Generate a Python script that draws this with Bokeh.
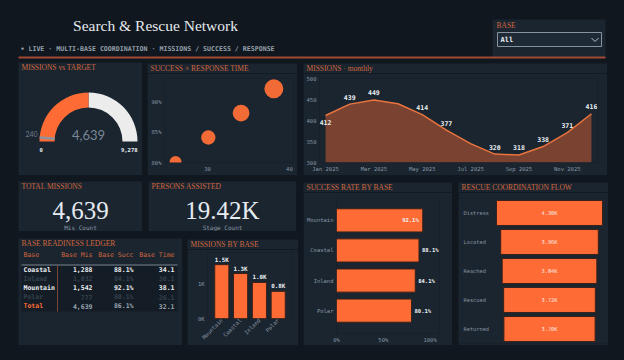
import math
from bokeh.plotting import figure
from bokeh.models import (Range1d, FactorRange, ColumnDataSource, FixedTicker,
                          SingleIntervalTicker, PrintfTickFormatter, Row, Column, Spacer)
from bokeh.core.properties import value
from bokeh.embed import file_html
from bokeh.resources import INLINE

# ---------------- data ----------------
bases = ["Coastal", "Inland", "Mountain", "Polar"]
base_missions = [1288, 1032, 1542, 777]
base_success = [88.1, 84.1, 92.1, 80.1]
base_response = [34.1, 30.1, 38.1, 26.1]
highlighted_bases = ["Coastal", "Mountain"]

months = ["Jan", "Feb", "Mar", "Apr", "May", "Jun", "Jul", "Aug", "Sep", "Oct", "Nov", "Dec"]
monthly_missions = [412, 439, 449, 440, 414, 377, 345, 320, 318, 338, 371, 416]
month_ticks = [0, 2, 4, 6, 8, 10]
month_tick_labels = ["Jan 2025", "Mar 2025", "May 2025", "Jul 2025", "Sep 2025", "Nov 2025"]
unlabeled_months = ["Apr", "Jul"]

mission_target = 240
gauge_max = 9278
persons_assisted = 19420

flow_stages = ["Distress", "Located", "Reached", "Rescued", "Returned"]
flow_values = [4300, 3960, 3840, 3720, 3700]

ledger_columns = ["Base", "Base Mis", "Base Succ", "Base Time"]

# ---------------- styling ----------------
BG = "#10171f"
PANEL = "#1a2530"
TABLE_BG = "#141d26"
ORANGE = "#ff6b35"
TITLE_C = "#d2663d"
GRAY = "#8a96a3"
WHITE = "#eef2f5"
MONO = "DejaVu Sans Mono"
SERIF = "Liberation Serif"
BAR_EDGE = "#3a2219"
TITLE_H = 11


def canvas_fig(w, h, fill=PANEL, flip=True):
    """Figure whose data units are pixels (y downwards unless flip=False)."""
    return figure(width=w, height=h, x_range=Range1d(0, w),
                  y_range=Range1d(h, 0) if flip else Range1d(0, h),
                  x_axis_type=None, y_axis_type=None, toolbar_location=None,
                  output_backend="svg", outline_line_color=None, min_border=0,
                  background_fill_color=fill, border_fill_color=fill)


def txt(p, x, y, s, size, color, font=MONO, align="left", baseline="middle", style="normal"):
    p.text(x=[x], y=[y], text=[s], text_font=value(font), text_font_size=size,
           text_color=color, text_align=align, text_baseline=baseline,
           text_font_style=style)


def panel_title(p, s):
    txt(p, 3, 5, s, "7.5px", TITLE_C, font=SERIF)


def boxed(fig):
    # each panel sits in its own column so neighbouring frames keep their own borders
    return Column(fig, spacing=0)


def chart_panel(w, h, title, borders, **kw):
    """A title strip stacked on a chart figure; borders = (left, right, top, bottom)."""
    left, right, top, bottom = borders
    head = canvas_fig(w, TITLE_H)
    panel_title(head, title)
    p = figure(width=w, height=h - TITLE_H, toolbar_location=None, output_backend="svg",
               outline_line_color=None, background_fill_color=PANEL, border_fill_color=PANEL,
               min_border_left=left, min_border_right=right, min_border_top=top - TITLE_H,
               min_border_bottom=bottom, **kw)
    p.grid.visible = False
    for ax in p.axis:
        ax.axis_line_color = None
        ax.major_tick_line_color = None
        ax.minor_tick_line_color = None
        ax.major_tick_out = 0
        ax.major_tick_in = 0
        ax.minor_tick_out = 0
        ax.minor_tick_in = 0
        ax.major_label_text_font = MONO
        ax.major_label_text_font_size = "5.5px"
        ax.major_label_text_color = GRAY
        ax.major_label_standoff = 3
    return p, Column(boxed(head), boxed(p), spacing=0)


total_missions = sum(base_missions)
avg_success = sum(base_success) / len(base_success)
avg_response = sum(base_response) / len(base_response)

# ---------------- header ----------------
hdr = canvas_fig(624, 62, fill=BG)
txt(hdr, 155, 25, "Search & Rescue Network", "15.5px", "#e6eaee", font=SERIF, align="center")
txt(hdr, 20, 48.5, "\u2022 LIVE  \u00b7  MULTI-BASE COORDINATION  \u00b7  MISSIONS / SUCCESS / RESPONSE",
    "6.6px", "#96a1ac", style="bold")
hdr.quad(left=492, right=605, top=19, bottom=57, fill_color=PANEL, line_color=None)
hdr.segment(x0=18, y0=57, x1=605, y1=57, line_color="#a04a32", line_width=2)
txt(hdr, 496, 24.5, "BASE", "7.5px", TITLE_C, font=SERIF)
hdr.quad(left=497, right=601, top=32, bottom=46, fill_color="#1e2a35",
         line_color="#8893a0", line_width=1)
txt(hdr, 500, 39.5, "All", "7px", WHITE, style="bold")
hdr.line(x=[591, 594.5, 598], y=[37.5, 41, 37.5], line_color="#b9c2ca", line_width=1)

# ---------------- gauge: missions vs target ----------------
GW, GH = 124, 113
g = canvas_fig(GW, GH, flip=False)
txt(g, 3, GH - 5, "MISSIONS vs TARGET", "7.5px", TITLE_C, font=SERIF)
cx, cy, r_in, r_out = 70, 34, 34, 49
split = math.pi * (1 - total_missions / gauge_max)
g.annular_wedge(x=cx, y=cy, inner_radius=r_in, outer_radius=r_out, start_angle=0,
                end_angle=split, fill_color="#ececec", line_color=None)
g.annular_wedge(x=cx, y=cy, inner_radius=r_in, outer_radius=r_out, start_angle=split,
                end_angle=math.pi, fill_color=ORANGE, line_color=None)
ta = math.pi * (1 - mission_target / gauge_max)
g.segment(x0=cx + r_in * math.cos(ta), y0=cy + r_in * math.sin(ta),
          x1=cx + r_out * math.cos(ta), y1=cy + r_out * math.sin(ta),
          line_color="#8a949e", line_width=2.5)
txt(g, cx + r_out * math.cos(ta) - 2, cy + r_out * math.sin(ta) + 4, f"{mission_target}",
    "7px", "#6f7b88", font="Lato", align="right")
txt(g, cx - r_out, cy - 8, "0", "5.5px", WHITE, style="bold")
txt(g, cx + r_out, cy - 8, f"{gauge_max:,}", "5.5px", WHITE, align="right", style="bold")
txt(g, cx, cy + 7, f"{total_missions:,}", "13px", "#7b8794", font="Lato", align="center")

# ---------------- success x response time ----------------
sc, sc_panel = chart_panel(150, 113, "SUCCESS \u00d7 RESPONSE TIME", (17, 4, 16, 13),
                           x_range=Range1d(24.75, 40.5), y_range=Range1d(80, 93.8))
sc_src = ColumnDataSource(dict(x=base_response, y=base_success,
                               s=[4.9 + 0.00915 * m for m in base_missions]))
sc.scatter(x="x", y="y", size="s", source=sc_src, fill_color="#f26a35", line_color=None)
sc.xaxis.ticker = SingleIntervalTicker(interval=10)
sc.yaxis.ticker = SingleIntervalTicker(interval=5)
sc.yaxis.formatter = PrintfTickFormatter(format="%d%%")

# ---------------- monthly missions ----------------
mo, mo_panel = chart_panel(304, 113, "MISSIONS \u00b7 monthly", (16, 10, 16, 13),
                           x_range=Range1d(-0.25, 11.25), y_range=Range1d(300, 500))
mx = list(range(len(months)))
mo.varea(x=mx, y1=[mo.y_range.start] * len(mx), y2=monthly_missions,
         fill_color=ORANGE, fill_alpha=0.42)
mo.line(x=mx, y=monthly_missions, line_color="#e8743f", line_width=1.5)
lab_x, lab_y, lab_t, lab_off = [], [], [], []
for i, (m, v) in enumerate(zip(months, monthly_missions)):
    if m in unlabeled_months:
        continue
    lab_x.append(i)
    lab_y.append(v)
    lab_t.append(str(v))
    lab_off.append(7 if i == 0 else -7)
mo.text(x=lab_x, y=lab_y, text=lab_t, y_offset=lab_off, text_font=value(MONO),
        text_font_size="6.5px", text_font_style="bold", text_color=WHITE,
        text_align="center", text_baseline="middle")
mo.xaxis.ticker = FixedTicker(ticks=month_ticks)
mo.xaxis.major_label_overrides = dict(zip(month_ticks, month_tick_labels))
mo.yaxis.ticker = SingleIntervalTicker(interval=50)

# ---------------- KPI cards ----------------
tot = canvas_fig(124, 50)
panel_title(tot, "TOTAL MISSIONS")
txt(tot, 62, 29, f"{total_missions:,}", "25px", "#e6ebf0", font=SERIF, align="center")
txt(tot, 62, 46, "Mis Count", "6px", GRAY, align="center")

per = canvas_fig(148, 50)
panel_title(per, "PERSONS ASSISTED")
txt(per, 74, 29, f"{persons_assisted / 1000:.2f}K", "25px", "#e6ebf0", font=SERIF, align="center")
txt(per, 74, 46, "Stage Count", "6px", GRAY, align="center")

# ---------------- base readiness ledger ----------------
ld = canvas_fig(164, 107)
panel_title(ld, "BASE READINESS LEDGER")
col_x = [5, 74, 115, 156]
col_align = ["left", "right", "right", "right"]
for cxl, al, name in zip(col_x, col_align, ledger_columns):
    txt(ld, cxl, 16.5, name, "6.5px", TITLE_C, align=al)
ld.quad(left=3, right=159, top=26, bottom=73, fill_color=TABLE_BG, line_color=None)
ld.segment(x0=3, y0=26.5, x1=159, y1=26.5, line_color="#7d8894", line_width=1)
ld.segment(x0=39, y0=27, x1=39, y1=73, line_color="#7a4633", line_width=1)
rows = []
for b, m, s, r in zip(bases, base_missions, base_success, base_response):
    rows.append(([b, f"{m:,}", f"{s:.1f}%", f"{r:.1f}"],
                 [WHITE] * 4 if b in highlighted_bases else ["#34414d"] * 4))
rows.append((["Total", f"{total_missions:,}", f"{avg_success:.1f}%", f"{avg_response:.1f}"],
             [ORANGE, "#9aa5b0", "#9aa5b0", "#9aa5b0"]))
for k, (cells, colors) in enumerate(rows):
    y = 31 + 9.2 * k
    for cxl, al, c, col in zip(col_x, col_align, cells, colors):
        txt(ld, cxl, y, c, "6.5px", col, align=al, style="bold")

# ---------------- missions by base ----------------
mb_order = sorted(range(len(bases)), key=lambda i: -base_missions[i])
mb_cats = [bases[i] for i in mb_order]
mb_vals = [base_missions[i] for i in mb_order]
mb, mb_panel = chart_panel(111, 107, "MISSIONS BY BASE", (20, 6, 14, 25),
                           x_range=FactorRange(*mb_cats, range_padding=0.13),
                           y_range=Range1d(0, 1890))
mb.vbar(x=mb_cats, top=mb_vals, width=0.75, fill_color=ORANGE, line_color=BAR_EDGE)
mb.text(x=mb_cats, y=mb_vals, text=[f"{v / 1000:.1f}K" for v in mb_vals], y_offset=-2,
        text_font=value(MONO), text_font_size="5.8px", text_font_style="bold",
        text_color=WHITE, text_align="center", text_baseline="bottom")
mb.xaxis.major_label_orientation = math.pi / 4
mb.xaxis.major_label_standoff = 1
mb_ticks = [0, 1000]
mb.yaxis.ticker = FixedTicker(ticks=mb_ticks)
mb.yaxis.major_label_overrides = {t: f"{t // 1000}K" for t in mb_ticks}

# ---------------- success rate by base ----------------
su_order = sorted(range(len(bases)), key=lambda i: -base_success[i])
su_cats = [bases[i] for i in su_order]
su_vals = [base_success[i] for i in su_order]
su, su_panel = chart_panel(149, 164, "SUCCESS RATE BY BASE", (33, 13, 16, 10),
                           x_range=Range1d(0, 110),
                           y_range=FactorRange(*reversed(su_cats), range_padding=0.13))
su.hbar(y=su_cats, left=0, right=su_vals, height=0.77, fill_color=ORANGE, line_color=BAR_EDGE)
inside = [v + 20 > su.x_range.end for v in su_vals]
su.text(x=su_vals, y=su_cats, text=[f"{v:.1f}%" for v in su_vals],
        x_offset=[-4 if i else 3 for i in inside],
        text_align=["right" if i else "left" for i in inside],
        text_font=value(MONO), text_font_size="5.5px", text_font_style="bold",
        text_color=WHITE, text_baseline="middle")
su.xaxis.ticker = FixedTicker(ticks=[0, 50, 100])
su.xaxis.formatter = PrintfTickFormatter(format="%d%%")

# ---------------- rescue coordination flow ----------------
fl, fl_panel = chart_panel(150, 164, "RESCUE COORDINATION FLOW", (0, 0, 17, 2),
                           x_range=Range1d(-3692, 2393),
                           y_range=FactorRange(*reversed(flow_stages)),
                           x_axis_type=None, y_axis_type=None)
fl.hbar(y=flow_stages, left=[-v / 2 for v in flow_values], right=[v / 2 for v in flow_values],
        height=0.86, fill_color=ORANGE, line_color=BAR_EDGE)
fl.text(x=0, y=flow_stages, text=[f"{v / 1000:.2f}K" for v in flow_values],
        text_font=value(MONO), text_font_size="5.3px", text_color="#fbe9e0",
        text_align="center", text_baseline="middle")
fl.text(x=fl.x_range.start, x_offset=5, y=flow_stages, text=flow_stages,
        text_font=value(MONO), text_font_size="5.3px", text_color=GRAY,
        text_align="left", text_baseline="middle")

# ---------------- layout ----------------
col_a = Column(Row(boxed(g), sc_panel, spacing=5), Spacer(height=6),
               Row(boxed(tot), boxed(per), spacing=6), Spacer(height=7),
               Row(boxed(ld), mb_panel, spacing=5), spacing=0)
col_b = Column(mo_panel, Spacer(height=6), Row(su_panel, fl_panel, spacing=6), spacing=0)
body = Row(Spacer(width=18), col_a, Spacer(width=5), col_b, spacing=0)
root = Column(hdr, body, Spacer(height=15), spacing=0,
              styles={"background-color": BG})

open("out.html", "w").write(file_html(root, INLINE))
